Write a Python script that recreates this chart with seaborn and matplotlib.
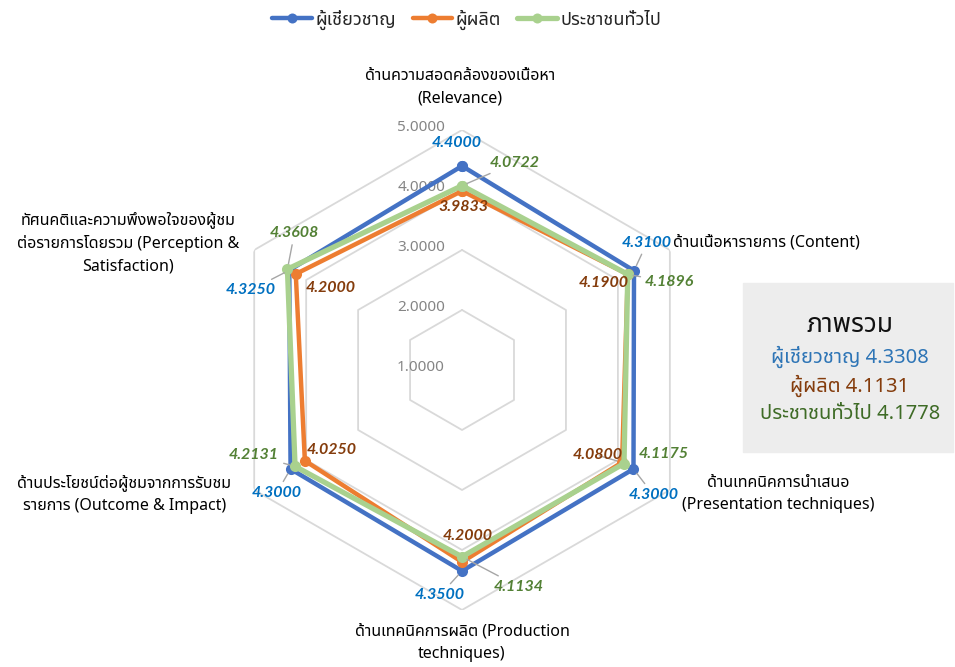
import numpy as np
import pandas as pd
import matplotlib
matplotlib.use("Agg")
import matplotlib.pyplot as plt
import seaborn as sns

# categories clockwise from the top
categories = [
    "ด้านความสอดคล้องของเนื้อหา\n(Relevance)",
    "ด้านเนื้อหารายการ (Content)",
    "ด้านเทคนิคการนำเสนอ\n(Presentation techniques)",
    "ด้านเทคนิคการผลิต (Production\ntechniques)",
    "ด้านประโยชน์ต่อผู้ชมจากการรับชม\nรายการ (Outcome & Impact)",
    "ทัศนคติและความพึงพอใจของผู้ชม\nต่อรายการโดยรวม (Perception &\nSatisfaction)",
]
series_names = ["ผู้เชี่ยวชาญ", "ผู้ผลิต", "ประชาชนทั่วไป"]
expert = [4.4000, 4.3100, 4.3000, 4.3500, 4.3000, 4.3250]
producer = [3.9833, 4.1900, 4.0800, 4.2000, 4.0250, 4.2000]
public = [4.0722, 4.1896, 4.1175, 4.1134, 4.2131, 4.3608]
overall = [4.3308, 4.1131, 4.1778]
ring_levels = [1, 2, 3, 4, 5]

line_colors = ["#4472C4", "#ED7D31", "#A9D18E"]
label_colors = ["#0070C0", "#843C0C", "#538135"]
box_colors = ["#2E75B6", "#843C0C", "#3E6B26"]

sns.set_style("white")
thai = ["Noto Sans Thai", "DejaVu Sans"]
plt.rcParams["font.family"] = thai

n = len(categories)
theta = np.linspace(0, 2 * np.pi, n, endpoint=False)
theta_closed = np.append(theta, 2 * np.pi)

fig = plt.figure(figsize=(9.55, 6.67), dpi=100)
ax = fig.add_axes([0.2325, 0.0855, 0.5026, 0.7196], projection="polar")
ax.set_theta_zero_location("N")
ax.set_theta_direction(-1)
ax.set_ylim(1, 5)
ax.grid(False)
ax.spines["polar"].set_visible(False)
ax.set_xticks([])
ax.set_yticks([])

# hexagonal grid rings
for lvl in ring_levels[1:]:
    ax.plot(theta_closed, [lvl] * (n + 1), color="#D9D9D9", lw=1.3, zorder=1)
for lvl in ring_levels:
    ax.annotate("%.4f" % lvl, xy=(0, lvl), xytext=(-17, 2), textcoords="offset pixels",
                ha="right", va="center", fontsize=11, color="#858585",
                family=["Noto Sans", "DejaVu Sans"])

for name, vals, col in zip(series_names, [expert, producer, public], line_colors):
    df = pd.DataFrame({"theta": theta_closed, "score": vals + vals[:1]})
    lw = 3.8 if col == "#A9D18E" else 3.2
    sns.lineplot(data=df, x="theta", y="score", sort=False, ax=ax, color=col,
                 lw=lw, marker="o", markersize=8, markeredgewidth=0,
                 label=name, legend=False, zorder=3)
ax.set_xlabel("")
ax.set_ylabel("")

# data label offsets in pixels (dx, dy) and whether a leader line is drawn
offsets = [
    [(-5, 23, False), (13, 28, True), (20, -26, True), (-22, -24, True), (-14, -24, True), (-39, -20, True)],
    [(1, -16, False), (-24, -9, False), (-24, 7, True), (6, 26, False), (27, 11, False), (35, -14, False)],
    [(53, 23, True), (42, -8, True), (40, 10, False), (57, -30, True), (-41, 11, True), (7, 36, True)],
]
for vals, col, offs in zip([expert, producer, public], label_colors, offsets):
    for t, v, (dx, dy, lead) in zip(theta, vals, offs):
        ap = dict(arrowstyle="-", color="#A6A6A6", lw=1, shrinkA=1, shrinkB=4) if lead else None
        ax.annotate("%.4f" % v, xy=(t, v), xytext=(dx, dy), textcoords="offset pixels",
                    ha="center", va="center", fontsize=11.5, fontweight="bold",
                    fontstyle="italic", color=col, family=["Lato", "DejaVu Sans"],
                    arrowprops=ap, zorder=5)

# category labels
cat_offsets = [(-2, 43, "center"), (3, 7, "left"), (108, -4, "center"),
               (0, -33, "center"), (-130, -4, "center"), (-126, 7, "center")]
for t, lab, (dx, dy, ha) in zip(theta, categories, cat_offsets):
    ax.annotate(lab, xy=(t, 5), xytext=(dx, dy), textcoords="offset pixels",
                ha=ha, va="center", multialignment="center", fontsize=11.5,
                color="#000000", linespacing=1.55, annotation_clip=False)

# legend
fig.legend(handles=[l for l in ax.get_lines() if l.get_label() in series_names],
           loc="upper center", bbox_to_anchor=(0.489, 1.01), ncol=3, frameon=False,
           fontsize=13, handlelength=2.2, columnspacing=0.9, handletextpad=0.2,
           markerscale=0.9)

# overall summary box
fig.patches.append(plt.Rectangle((743 / 955, 1 - 452 / 667), 210 / 955, 169 / 667,
                                 transform=fig.transFigure, color="#EDEDED", zorder=0))
fig.text(850 / 955, 1 - 325 / 667, "ภาพรวม", ha="center", va="center",
         fontsize=19, fontweight="bold", color="#111111")
for i, (name, v, col) in enumerate(zip(series_names, overall, box_colors)):
    fig.text(850 / 955, 1 - (357 + 28.5 * i) / 667, "%s %.4f" % (name, v), ha="center",
             va="center", fontsize=14.5, color=col)

fig.savefig("out.png", dpi=100)
